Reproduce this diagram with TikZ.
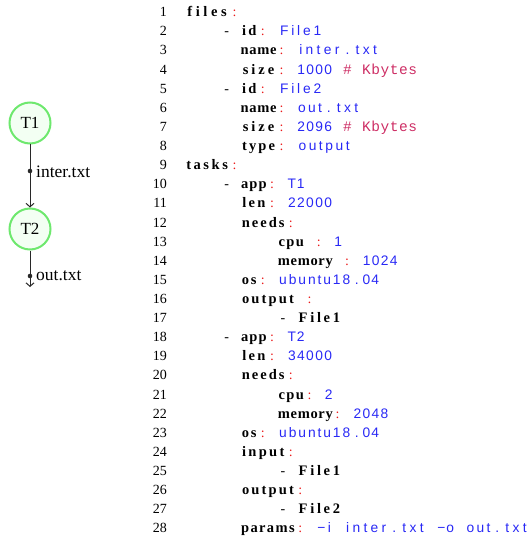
\documentclass[tikz,border=0pt]{standalone}
\usepackage{fontspec}
\setmainfont{Liberation Serif}
\newfontfamily\yvalfont{Liberation Sans}
\newfontfamily\ycomfont{Liberation Mono}
\usetikzlibrary{arrows.meta}

\definecolor{taskgreen}{RGB}{110,232,110}
\definecolor{taskfill}{RGB}{243,255,243}
\definecolor{yamlval}{RGB}{40,40,245}
\definecolor{yamlpunct}{RGB}{235,25,25}
\definecolor{yamlcom}{RGB}{205,45,100}
\definecolor{flowline}{RGB}{40,40,40}

% fixed-column typesetting: every character takes one column of width \cw,
% the glue inside a token is spread evenly
\newlength\cw
\setlength\cw{9.36pt}
\newcount\ytokn
\def\ycnt#1{\ifx#1\relax\else\advance\ytokn by 1 \expandafter\ycnt\fi}
\def\yfill#1{\ifx#1\relax\else\hss#1\expandafter\yfill\fi}
\newcommand\yfix[1]{\ytokn=0 \ycnt#1\relax\hbox to \ytokn\cw{\yfill#1\relax\hss}}

\newcommand\ykey[1]{{\fontsize{14.5}{16}\selectfont\bfseries\yfix{#1}}}
\newcommand\yval[1]{{\yvalfont\fontsize{13.8}{16}\selectfont\color{yamlval}\yfix{#1}}}
\newcommand\ycol{{\color{yamlpunct}\hbox to \cw{\hskip-1pt\hss:\hss}}}
\newcommand\ycom[1]{{\ycomfont\fontsize{14.5}{16}\selectfont\color{yamlcom}\yfix{#1}}}
\newcommand\ysp[1][1]{\hskip#1\cw\relax}
\newcommand\ydash{\hbox to \cw{\hss\hskip2pt-\hss}}

\tikzset{
  task/.style={circle, draw=taskgreen, fill=taskfill, line width=2pt,
    minimum size=41pt, inner sep=0pt, font=\fontsize{17}{20}\selectfont},
  flow/.style={draw=flowline, line width=1pt,
    -{Straight Barb[length=3.5pt,width=8pt]}},
  flabel/.style={anchor=base west, inner sep=0pt, font=\fontsize{17.5}{20}\selectfont},
  lnum/.style={anchor=base east, inner sep=0pt, font=\fontsize{14}{16}\selectfont},
  code/.style={anchor=base west, inner sep=0pt, font=\fontsize{14}{16}\selectfont},
}

% one listing line: number and content on the same baseline
\newcommand\yline[2]{%
  \node[lnum] (n#1) at (167,{16.7+(#1-1)*19.12}) {#1};
  \node[code] (c#1) at (183.5,{16.7+(#1-1)*19.12}) {#2};}

\begin{document}
\begin{tikzpicture}[x=1pt,y=-1pt]
\useasboundingbox (0,0) rectangle (531,540);

% workflow graph
\node[task] (t1) at (30,123) {T1};
\node[task] (t2) at (30,229) {T2};
\coordinate (d1) at (30,171);
\coordinate (d2) at (30,276);
\coordinate (sink) at (30,287);
\draw[flow] (t1) -- (t2);
\draw[flow] (t2) -- (sink);
\fill[flowline] (d1) circle (2.3);
\fill[flowline] (d2) circle (2.3);
\node[flabel] (f1) at (36,177.3) {inter.txt};
\node[flabel] (f2) at (36,280.5) {out.txt};

% workflow description
\yline{1}{\ykey{files}\ycol}
\yline{2}{\ysp[4]\ydash\ysp\ykey{id}\ycol\ysp\yval{File1}}
\yline{3}{\ysp[6]\ykey{name}\ycol\ysp\yval{inter}\yval{.}\yval{txt}}
\yline{4}{\ysp[6]\ykey{size}\ycol\ysp\yval{1000}\ysp\ycom{\#}\ysp\ycom{Kbytes}}
\yline{5}{\ysp[4]\ydash\ysp\ykey{id}\ycol\ysp\yval{File2}}
\yline{6}{\ysp[6]\ykey{name}\ycol\ysp\yval{out}\yval{.}\yval{txt}}
\yline{7}{\ysp[6]\ykey{size}\ycol\ysp\yval{2096}\ysp\ycom{\#}\ysp\ycom{Kbytes}}
\yline{8}{\ysp[6]\ykey{type}\ycol\ysp\yval{output}}
\yline{9}{\ykey{tasks}\ycol}
\yline{10}{\ysp[4]\ydash\ysp\ykey{app}\ycol\ysp\yval{T1}}
\yline{11}{\ysp[6]\ykey{len}\ycol\ysp\yval{22000}}
\yline{12}{\ysp[6]\ykey{needs}\ycol}
\yline{13}{\ysp[10]\ykey{cpu}\ysp\ycol\ysp\yval{1}}
\yline{14}{\ysp[10]\ykey{memory}\ysp\ycol\ysp\yval{1024}}
\yline{15}{\ysp[6]\ykey{os}\ycol\ysp\yval{ubuntu18}\yval{.}\yval{04}}
\yline{16}{\ysp[6]\ykey{output}\ysp\ycol}
\yline{17}{\ysp[10]\ydash\ysp\ykey{File1}}
\yline{18}{\ysp[4]\ydash\ysp\ykey{app}\ycol\ysp\yval{T2}}
\yline{19}{\ysp[6]\ykey{len}\ycol\ysp\yval{34000}}
\yline{20}{\ysp[6]\ykey{needs}\ycol}
\yline{21}{\ysp[10]\ykey{cpu}\ycol\ysp\yval{2}}
\yline{22}{\ysp[10]\ykey{memory}\ycol\ysp\yval{2048}}
\yline{23}{\ysp[6]\ykey{os}\ycol\ysp\yval{ubuntu18}\yval{.}\yval{04}}
\yline{24}{\ysp[6]\ykey{input}\ycol}
\yline{25}{\ysp[10]\ydash\ysp\ykey{File1}}
\yline{26}{\ysp[6]\ykey{output}\ycol}
\yline{27}{\ysp[10]\ydash\ysp\ykey{File2}}
\yline{28}{\ysp[6]\ykey{params}\ycol\ysp\yval{−i}\ysp\yval{inter}\yval{.}\yval{txt}\ysp\yval{−o}\ysp\yval{out}\yval{.}\yval{txt}}
\end{tikzpicture}
\end{document}
